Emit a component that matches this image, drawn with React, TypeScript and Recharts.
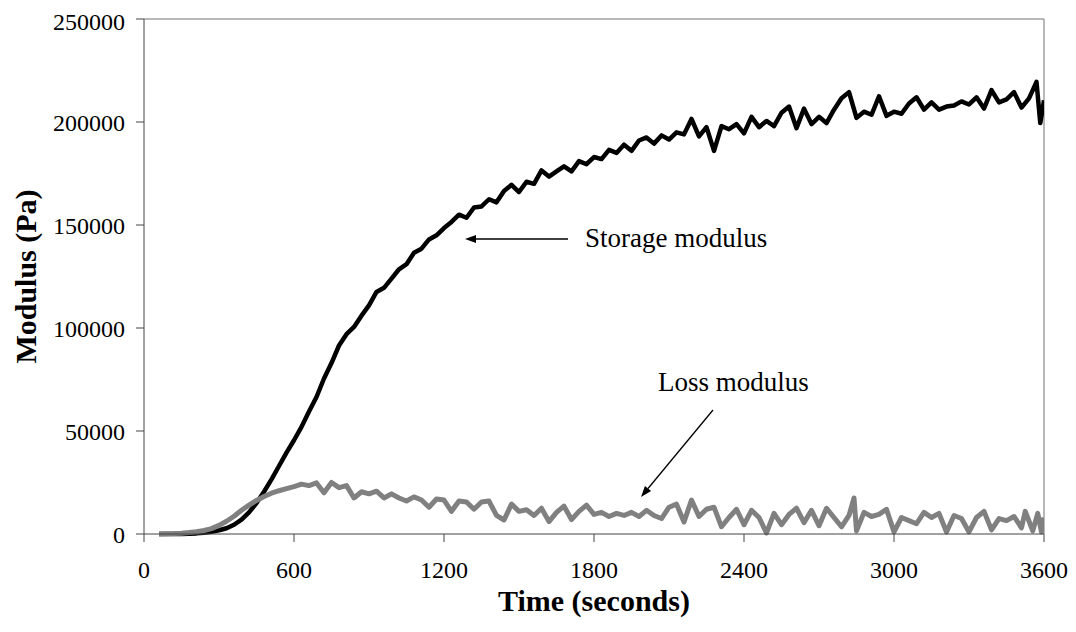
import React from 'react';
import { LineChart, Line, XAxis, YAxis, ReferenceLine, Label } from 'recharts';

const xTicks = [0, 600, 1200, 1800, 2400, 3000, 3600];
const yTicks = [0, 50000, 100000, 150000, 200000, 250000];

const storageTimes = [
  60, 90, 120, 150, 180, 210, 240, 270, 300, 330, 360, 390, 420, 450, 480, 510, 540, 570, 600, 630,
  660, 690, 720, 750, 780, 810, 840, 870, 900, 930, 960, 990, 1020, 1050, 1080, 1110, 1140, 1170, 1200, 1230,
  1260, 1290, 1320, 1350, 1380, 1410, 1440, 1470, 1500, 1530, 1560, 1590, 1620, 1650, 1680, 1710, 1740, 1770, 1800, 1830,
  1860, 1890, 1920, 1950, 1980, 2010, 2040, 2070, 2100, 2130, 2160, 2190, 2220, 2250, 2280, 2310, 2340, 2370, 2400, 2430,
  2460, 2490, 2520, 2550, 2580, 2610, 2640, 2670, 2700, 2730, 2760, 2790, 2820, 2850, 2880, 2910, 2940, 2970, 3000, 3030,
  3060, 3090, 3120, 3150, 3180, 3210, 3240, 3270, 3300, 3330, 3360, 3390, 3420, 3450, 3480, 3510, 3540, 3570, 3585, 3600,
];
const storageValues = [
  0, 0, 0, 0, 100, 300, 600, 1100, 1800, 2800, 4500, 7000, 10500, 15000, 20500, 26500, 33000, 39500, 45500, 52000,
  59500, 66500, 75500, 83000, 91500, 97000, 100500, 106000, 111000, 117500, 119500, 124000, 128500, 131000, 136500, 138500, 143000, 145000, 148500, 151500,
  155000, 153500, 158500, 159000, 162500, 161000, 166500, 169500, 166000, 171000, 170000, 176500, 173500, 176000, 178500, 176000, 181000, 179500, 183000, 182000,
  186500, 185000, 189000, 186000, 191000, 192500, 189500, 193500, 191500, 195000, 194000, 201500, 193000, 197500, 186000, 198000, 196500, 199000, 194500, 202500,
  197500, 200500, 198000, 204500, 207500, 197000, 206500, 199000, 202500, 199500, 206000, 211500, 214500, 202000, 205000, 203500, 212500, 203000, 205000, 204000,
  209000, 212000, 206000, 209500, 206000, 207500, 208000, 210000, 208500, 212000, 206500, 215500, 209500, 211000, 214500, 207000, 211500, 219500, 199500, 210500,
];

const lossTimes = [
  60, 90, 120, 150, 180, 210, 240, 270, 300, 330, 360, 390, 420, 450, 480, 510, 540, 570, 600, 630,
  660, 690, 720, 750, 780, 810, 840, 870, 900, 930, 960, 990, 1020, 1050, 1080, 1110, 1140, 1170, 1200, 1230,
  1260, 1290, 1320, 1350, 1380, 1410, 1440, 1470, 1500, 1530, 1560, 1590, 1620, 1650, 1680, 1710, 1740, 1770, 1800, 1830,
  1860, 1890, 1920, 1950, 1980, 2010, 2040, 2070, 2100, 2130, 2160, 2190, 2220, 2250, 2280, 2310, 2340, 2370, 2400, 2430,
  2460, 2490, 2520, 2550, 2580, 2610, 2640, 2670, 2700, 2730, 2760, 2790, 2820, 2840, 2850, 2880, 2910, 2940, 2970, 3000,
  3030, 3060, 3090, 3120, 3150, 3180, 3210, 3240, 3270, 3300, 3330, 3360, 3390, 3420, 3450, 3480, 3510, 3525, 3555, 3575,
  3590, 3600,
];
const lossValues = [
  0, 100, 200, 400, 700, 1100, 1700, 2600, 4200, 6200, 8600, 11500, 14000, 16300, 18200, 19800, 21000, 22000, 23000, 24200,
  23500, 24800, 20000, 25000, 22500, 23500, 17500, 20500, 19500, 20800, 17500, 19500, 17500, 16000, 18000, 16500, 13000, 17000, 16500, 11000,
  16000, 15500, 12000, 15500, 16000, 9000, 6800, 14500, 11000, 11800, 9000, 12500, 6000, 10500, 13500, 7000, 11000, 14000, 9500, 10500,
  8500, 10000, 9000, 10500, 8500, 11500, 9000, 7500, 13000, 14500, 5800, 16500, 8500, 12000, 13000, 3500, 8000, 12000, 4500, 11500,
  8000, 500, 10000, 4500, 9500, 12500, 5500, 11500, 4000, 12500, 8000, 3500, 9000, 17500, 1500, 10500, 8500, 9500, 12000, 1000,
  8000, 6500, 5000, 10500, 8000, 10000, 1000, 9000, 7500, 1000, 8000, 11000, 2000, 7500, 6500, 8500, 3000, 11000, 1500, 10000,
  1000, 8000,
];

const storageData = storageTimes.map((t, i) => ({ t, v: storageValues[i] }));
const lossData = lossTimes.map((t, i) => ({ t, v: lossValues[i] }));

const FONT = '"Liberation Serif", "Times New Roman", serif';

const arrowShape = (text: string, dx: number, dy: number) => (props: any) => {
  const { x1, y1, x2, y2 } = props;
  const ang = Math.atan2(y2 - y1, x2 - x1);
  const len = 11;
  const w = 4;
  const bx = x2 - len * Math.cos(ang);
  const by = y2 - len * Math.sin(ang);
  const px = -Math.sin(ang) * w;
  const py = Math.cos(ang) * w;
  return (
    <g>
      <line x1={x1} y1={y1} x2={bx} y2={by} stroke="#000" strokeWidth={1.3} />
      <polygon points={`${x2},${y2} ${bx + px},${by + py} ${bx - px},${by - py}`} fill="#000" />
      <text x={x1 + dx} y={y1 + dy} fontFamily={FONT} fontSize={27} fill="#000">{text}</text>
    </g>
  );
};

const tickStyle = { fontSize: 24, fill: '#000', fontFamily: FONT };

export default function App() {
  return (
    <LineChart width={1060} height={616} margin={{ top: 11, right: 24, left: 0, bottom: 0 }}>
      <XAxis
        type="number"
        dataKey="t"
        domain={[0, 3600]}
        ticks={xTicks}
        allowDataOverflow
        height={90}
        tickSize={8}
        tickMargin={19}
        stroke="#444"
        tick={tickStyle}
      >
        <Label
          content={({ viewBox }: any) => (
            <text
              x={viewBox.x + viewBox.width / 2}
              y={603}
              textAnchor="middle"
              fontFamily={FONT}
              fontWeight="bold"
              fontSize={30}
              fill="#000"
            >
              Time (seconds)
            </text>
          )}
        />
      </XAxis>
      <YAxis
        type="number"
        domain={[0, 250000]}
        ticks={yTicks}
        width={136}
        tickSize={8}
        tickMargin={11}
        stroke="#444"
        tick={tickStyle}
      >
        <Label
          content={({ viewBox }: any) => {
            const cy = viewBox.y + viewBox.height / 2;
            return (
              <text
                x={17}
                y={cy}
                transform={`rotate(-90 17 ${cy})`}
                textAnchor="middle"
                dominantBaseline="central"
                fontFamily={FONT}
                fontWeight="bold"
                fontSize={30}
                fill="#000"
              >
                Modulus (Pa)
              </text>
            );
          }}
        />
      </YAxis>
      <ReferenceLine y={250000} stroke="#a0a0a0" strokeWidth={1.5} />
      <ReferenceLine x={3600} stroke="#a0a0a0" strokeWidth={1.5} />
      <Line
        data={storageData}
        dataKey="v"
        type="linear"
        stroke="#000"
        strokeWidth={4.5}
        strokeLinejoin="round"
        dot={false}
        isAnimationActive={false}
      />
      <Line
        data={lossData}
        dataKey="v"
        type="linear"
        stroke="#808080"
        strokeWidth={5}
        strokeLinejoin="round"
        dot={false}
        isAnimationActive={false}
      />
      <ReferenceLine
        segment={[{ x: 1696, y: 143200 }, { x: 1284, y: 143200 }]}
        shape={arrowShape('Storage modulus', 17, 8)}
        ifOverflow="visible"
      />
      <ReferenceLine
        segment={[{ x: 2276, y: 60200 }, { x: 1988, y: 17960 }]}
        shape={arrowShape('Loss modulus', -55, -19)}
        ifOverflow="visible"
      />
    </LineChart>
  );
}
